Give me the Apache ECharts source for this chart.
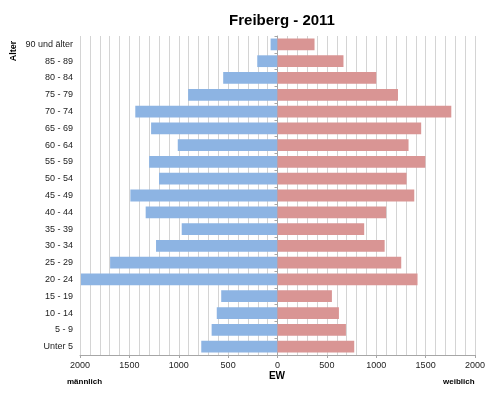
<!DOCTYPE html>
<html>
<head>
<meta charset="utf-8">
<script src="https://cdn.jsdelivr.net/npm/echarts@6/dist/echarts.min.js"></script>
<style>
  html, body { margin: 0; padding: 0; background: #fff; }
  #chart { width: 500px; height: 396px; }
</style>
</head>
<body>
<div id="chart"></div>
<script>
// Altersgruppen, von oben nach unten
const ageGroups = [
  "90 und älter", "85 - 89", "80 - 84", "75 - 79", "70 - 74", "65 - 69",
  "60 - 64", "55 - 59", "50 - 54", "45 - 49", "40 - 44", "35 - 39",
  "30 - 34", "25 - 29", "20 - 24", "15 - 19", "10 - 14", "5 - 9", "Unter 5"
];
// Einwohner männlich / weiblich
const male = [70, 205, 550, 905, 1440, 1280, 1010, 1300, 1200, 1490, 1335, 970,
  1230, 1695, 1990, 570, 615, 667, 772];
const female = [375, 668, 1000, 1220, 1760, 1455, 1327, 1497, 1307, 1385, 1100, 878,
  1085, 1253, 1418, 551, 622, 693, 777];
const xTicks = [-2000, 2000, 500]; // min, max, Schrittweite

const chart = echarts.init(document.getElementById("chart"));
const font = "Liberation Sans, Arial, sans-serif";

const option = {
  animation: false,
  title: {
    text: "Freiberg - 2011",
    left: 277,
    top: 8,
    textAlign: "center",
    textStyle: { fontFamily: font, fontSize: 15, fontWeight: "bold", color: "#000" },
  },
  grid: { left: 80, right: 25, top: 36, bottom: 41 },
  xAxis: {
    type: "value",
    min: xTicks[0],
    max: xTicks[1],
    interval: xTicks[2],
    axisLine: { show: true, lineStyle: { color: "#a6a6a6" } },
    axisTick: { show: true, length: 3, lineStyle: { color: "#a6a6a6" } },
    axisLabel: {
      fontFamily: font,
      fontSize: 9,
      color: "#222",
      margin: 6,
      formatter: (v) => String(Math.abs(v)),
    },
    splitLine: { show: true, lineStyle: { color: "#d4d4d4" } },
    minorTick: { show: false, splitNumber: 5 },
    minorSplitLine: { show: true, lineStyle: { color: "#d4d4d4" } },
  },
  yAxis: [
    {
      type: "category",
      inverse: true,
      data: ageGroups,
      axisLine: { show: false, onZero: false },
      axisTick: { show: false },
      axisLabel: { fontFamily: font, fontSize: 9, color: "#222", margin: 7 },
    },
    {
      type: "category",
      inverse: true,
      position: "left",
      data: ageGroups,
      axisLine: { show: true, onZero: true, lineStyle: { color: "#a6a6a6" } },
      axisTick: { show: true, length: 3, lineStyle: { color: "#a6a6a6" } },
      axisLabel: { show: false },
    },
  ],
  series: [
    {
      name: "männlich",
      type: "bar",
      yAxisIndex: 0,
      data: male.map((v) => -v),
      barWidth: "70%",
      barGap: "-100%",
      itemStyle: { color: "#8db4e3" },
    },
    {
      name: "weiblich",
      type: "bar",
      yAxisIndex: 0,
      data: female,
      barWidth: "70%",
      barGap: "-100%",
      itemStyle: { color: "#d99594" },
    },
  ],
  graphic: [
    {
      type: "text",
      x: 14,
      y: 51,
      rotation: Math.PI / 2,
      style: {
        text: "Alter",
        font: "bold 9px " + font,
        fill: "#000",
        align: "center",
        verticalAlign: "middle",
      },
    },
    {
      type: "text",
      x: 277,
      y: 376,
      style: {
        text: "EW",
        font: "bold 10px " + font,
        fill: "#000",
        align: "center",
        verticalAlign: "middle",
      },
    },
    {
      type: "text",
      x: 67,
      y: 382,
      style: {
        text: "männlich",
        font: "bold 8px " + font,
        fill: "#000",
        align: "left",
        verticalAlign: "middle",
      },
    },
    {
      type: "text",
      x: 443,
      y: 382,
      style: {
        text: "weiblich",
        font: "bold 8px " + font,
        fill: "#000",
        align: "left",
        verticalAlign: "middle",
      },
    },
  ],
};

chart.setOption(option);
window.addEventListener("resize", () => chart.resize());
</script>
</body>
</html>
